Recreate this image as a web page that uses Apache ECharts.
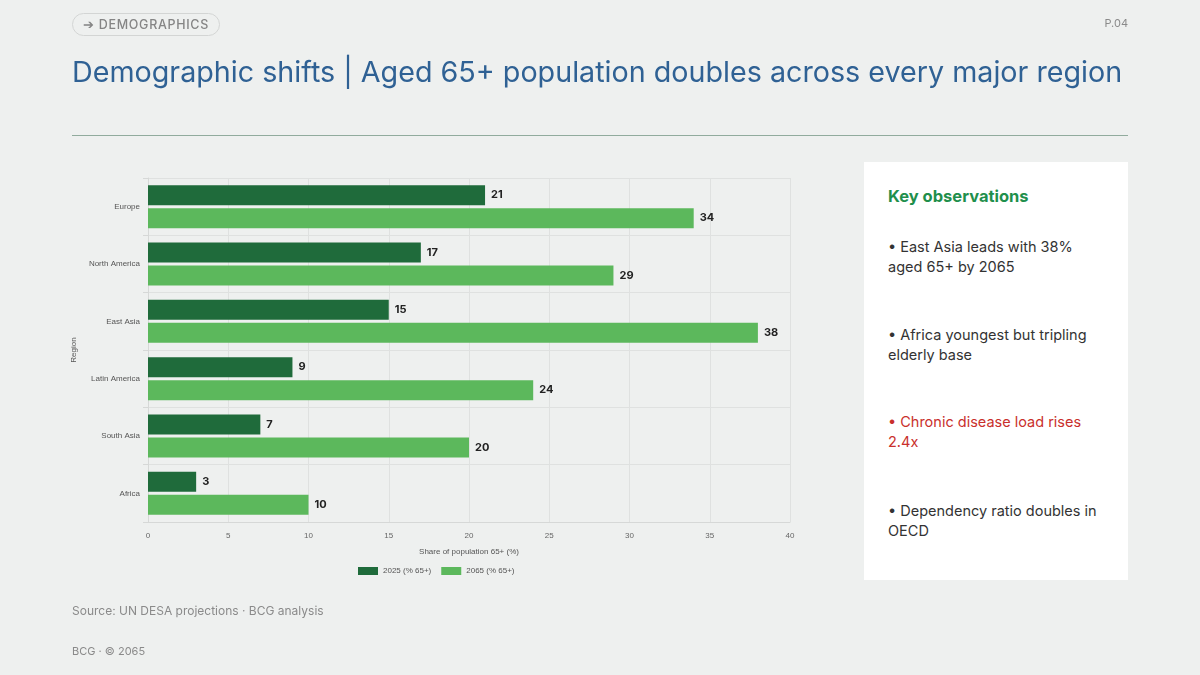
<!DOCTYPE html>
<html>
<head>
<meta charset="utf-8">
<script src="https://cdn.jsdelivr.net/npm/echarts@6/dist/echarts.min.js"></script>
<style>
  body { margin: 0; background: #eef0ef; font-family: Inter, "Noto Sans", sans-serif; }
  .page { position: relative; width: 1200px; height: 675px; overflow: hidden; }
  .tag { position: absolute; left: 72px; top: 13px; height: 21px; padding: 0 10px 0 10px; border: 1px solid #d3d5d4;
         border-radius: 12px; font-size: 12.5px; line-height: 21px; color: #858585; letter-spacing: 0.7px; font-weight: 500; }
  .pnum { position: absolute; right: 72px; top: 16px; font-size: 11px; color: #8a8a8a; }
  .title { position: absolute; left: 72px; top: 54px; font-size: 28.7px; color: #2f6194; white-space: nowrap; }
  .rule { position: absolute; left: 72px; top: 135px; width: 1056px; height: 1px; background: #91ab9d; }
  #main { position: absolute; left: 0; top: 0; width: 1200px; height: 675px; }
  .panel { position: absolute; left: 864px; top: 162px; width: 264px; height: 418px; background: #fff; }
  .panel h3 { position: absolute; left: 24px; top: 24px; margin: 0; font-size: 16.5px; color: #1f8f4c; font-weight: 700; }
  .panel p { position: absolute; left: 24px; width: 213px; margin: 0; font-size: 14.5px; line-height: 20px; color: #333; }
  .panel p.red { color: #c9302c; }
  .src { position: absolute; left: 72px; top: 603px; font-size: 12px; color: #8a8a8a; }
  .foot { position: absolute; left: 72px; top: 644px; font-size: 11px; color: #8a8a8a; }
</style>
</head>
<body>
<div class="page">
  <div id="main"></div>
  <div class="tag">➔ DEMOGRAPHICS</div>
  <div class="pnum">P.04</div>
  <div class="title">Demographic shifts | Aged 65+ population doubles across every major region</div>
  <div class="rule"></div>
  <div class="panel">
    <h3>Key observations</h3>
    <p style="top:75px">• East Asia leads with 38% aged 65+ by 2065</p>
    <p style="top:163px">• Africa youngest but tripling elderly base</p>
    <p class="red" style="top:250px">• Chronic disease load rises 2.4x</p>
    <p style="top:339px">• Dependency ratio doubles in OECD</p>
  </div>
  <div class="src">Source: UN DESA projections · BCG analysis</div>
  <div class="foot">BCG · © 2065</div>
</div>
<script>
var regions = ['Europe', 'North America', 'East Asia', 'Latin America', 'South Asia', 'Africa'];
var share2025 = [21, 17, 15, 9, 7, 3];
var share2065 = [34, 29, 38, 24, 20, 10];
var xTicks = { min: 0, max: 40, interval: 5 };

var myChart = echarts.init(document.getElementById('main'));

var labelStyle = {
    show: true,
    position: 'right',
    distance: 6,
    fontSize: 11,
    fontWeight: 'bold',
    color: '#222',
    fontFamily: 'Inter'
};

var option = {
    backgroundColor: 'transparent',
    animation: false,
    textStyle: { fontFamily: '"Liberation Sans", Arial, sans-serif' },
    grid: { left: 148, top: 178, right: 410, bottom: 153 },
    legend: {
        left: 353,
        top: 562,
        itemWidth: 20,
        itemHeight: 8,
        itemGap: 10,
        icon: 'rect',
        textStyle: { fontSize: 8, color: '#555' },
        data: ['2025 (% 65+)', '2065 (% 65+)']
    },
    xAxis: {
        type: 'value',
        min: xTicks.min,
        max: xTicks.max,
        interval: xTicks.interval,
        name: 'Share of population 65+ (%)',
        nameLocation: 'middle',
        nameGap: 26,
        nameTextStyle: { fontSize: 8, color: '#555' },
        axisLine: { show: true, lineStyle: { color: '#d6d8d7' } },
        axisTick: { show: false },
        axisLabel: { fontSize: 8, color: '#666', margin: 10 },
        splitLine: { show: true, lineStyle: { color: '#dfe1e0' } }
    },
    yAxis: {
        type: 'category',
        data: regions,
        inverse: true,
        name: 'Region',
        nameLocation: 'middle',
        nameGap: 64,
        nameRotate: 90,
        nameTextStyle: { fontSize: 8, color: '#555' },
        axisLine: { show: true, lineStyle: { color: '#d6d8d7' } },
        axisTick: { show: true, length: 5, lineStyle: { color: '#d6d8d7' } },
        axisLabel: { fontSize: 8, color: '#555', margin: 8 },
        splitLine: { show: true, lineStyle: { color: '#dfe1e0' } }
    },
    series: [
        {
            name: '2025 (% 65+)',
            type: 'bar',
            data: share2025,
            barWidth: 20,
            barGap: '15%',
            itemStyle: { color: '#1f6b3b' },
            label: labelStyle
        },
        {
            name: '2065 (% 65+)',
            type: 'bar',
            data: share2065,
            barWidth: 20,
            itemStyle: { color: '#5cb85c' },
            label: labelStyle
        }
    ]
};

myChart.setOption(option);
</script>
</body>
</html>
